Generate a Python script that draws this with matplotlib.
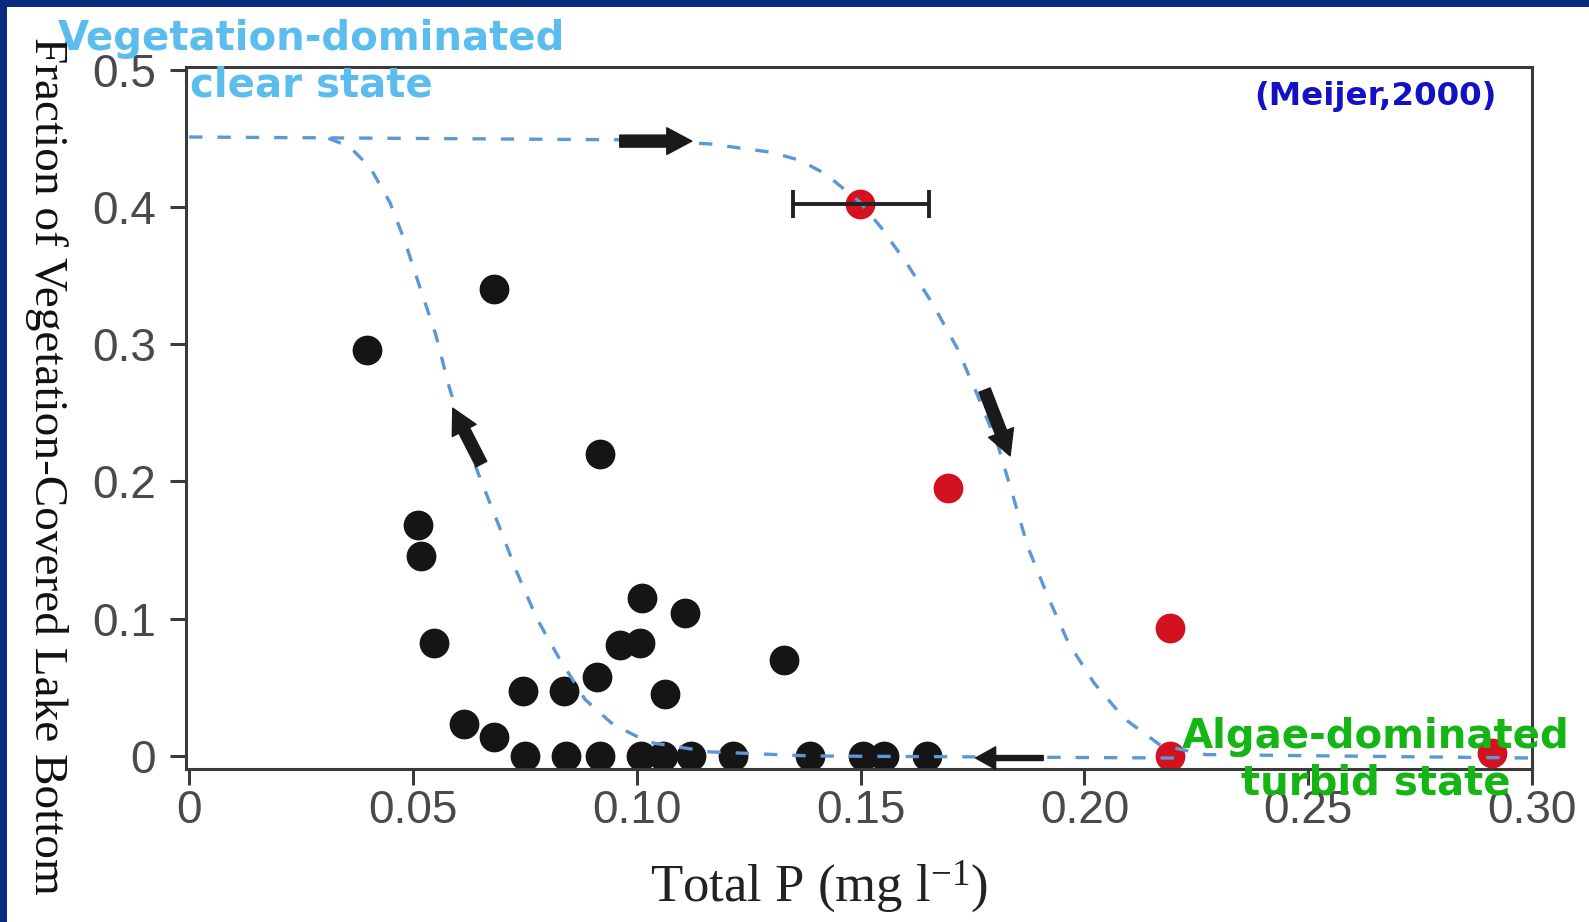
import matplotlib.pyplot as plt
from matplotlib.patches import Rectangle

plt.rcParams['font.family'] = ['Liberation Sans', 'DejaVu Sans']
plt.rcParams['mathtext.fontset'] = 'custom'
plt.rcParams['mathtext.rm'] = 'Liberation Serif'
plt.rcParams['mathtext.it'] = 'Liberation Serif:italic'

# lakes without regime shift (black) and with (red)
black_x = [0.0397, 0.0680, 0.0917, 0.0512, 0.0519, 0.0546, 0.1012, 0.1107, 0.0962, 0.1008,
           0.1329, 0.0745, 0.0838, 0.0911, 0.1064, 0.0614, 0.0682,
           0.0750, 0.0841, 0.0917, 0.1009, 0.1058, 0.1121, 0.1214, 0.1386, 0.1505, 0.1552, 0.1648]
black_y = [0.2955, 0.3405, 0.220, 0.168, 0.146, 0.082, 0.115, 0.104, 0.081, 0.082,
           0.070, 0.047, 0.047, 0.0576, 0.045, 0.023, 0.014,
           0, 0, 0, 0, 0, 0, 0, 0, 0, 0, 0]
red_x = [0.1498, 0.1696, 0.2191, 0.2191, 0.2910]
red_y = [0.402, 0.195, 0.093, 0.0, 0.002]
red_xerr_lo = [0.015]
red_xerr_hi = [0.0155]

# hysteresis branches (dashed)
upper_x = [0.000, 0.0483, 0.0958, 0.1162, 0.1298, 0.1365, 0.1422, 0.1497, 0.1546, 0.1603,
           0.1660, 0.1716, 0.1761, 0.1807, 0.1840, 0.1874, 0.1920, 0.1965, 0.2022, 0.2090,
           0.2169, 0.2271, 0.2995]
upper_y = [0.451, 0.450, 0.449, 0.446, 0.440, 0.434, 0.424, 0.404, 0.385, 0.359,
           0.330, 0.297, 0.263, 0.226, 0.190, 0.152, 0.115, 0.082, 0.053, 0.027,
           0.008, 0.001, -0.0015]
lower_x = [0.0311, 0.0358, 0.0404, 0.0449, 0.0483, 0.0517, 0.0551, 0.0580, 0.0614, 0.0653,
           0.0693, 0.0732, 0.0777, 0.0827, 0.0885, 0.0947, 0.1026, 0.1162, 0.1388, 0.2203]
lower_y = [0.450, 0.444, 0.429, 0.403, 0.374, 0.340, 0.307, 0.270, 0.233, 0.200,
           0.167, 0.134, 0.100, 0.071, 0.041, 0.023, 0.010, 0.003, 0.0, -0.0015]

# arrows: (tail, tip)
arrow_tails = [(0.0962, 0.448), (0.1777, 0.2666), (0.0653, 0.2127), (0.1908, -0.0015)]
arrow_tips = [(0.1123, 0.448), (0.1834, 0.2187), (0.0589, 0.2534), (0.1757, -0.0015)]

xticks = [0, 0.05, 0.10, 0.15, 0.20, 0.25, 0.30]
xtick_labels = ['0', '0.05', '0.10', '0.15', '0.20', '0.25', '0.30']
yticks = [0, 0.1, 0.2, 0.3, 0.4, 0.5]
ytick_labels = ['0', '0.1', '0.2', '0.3', '0.4', '0.5']

W, H = 1589, 922
fig = plt.figure(figsize=(W / 100, H / 100), dpi=100, facecolor='#0b2a7c')
fig.patches.append(Rectangle((7 / W, 0), 1, 1 - 7 / H, transform=fig.transFigure,
                             facecolor='white', edgecolor='none', zorder=-1))

ax = fig.add_axes([186 / W, 1 - 769 / H, (1532 - 186) / W, (769 - 67) / H])
ax.set_xlim(-0.0007, 0.2999)
ax.set_ylim(-0.0095, 0.502)

ax.scatter(black_x, black_y, s=460, color='#151515', linewidths=0, zorder=2)
ax.scatter(red_x, red_y, s=460, color='#d4121f', linewidths=0, zorder=2)

dash = dict(color='#5a98d6', lw=2.4, dashes=(4, 4.5), zorder=3)
ax.plot(upper_x, upper_y, **dash)
ax.plot(lower_x, lower_y, **dash)

ax.errorbar(red_x[:1], red_y[:1], xerr=[red_xerr_lo, red_xerr_hi], fmt='none',
            ecolor='#222222', elinewidth=2.8, capsize=10, capthick=2.8, zorder=3)

styles = ['simple,head_width=0.8,head_length=0.75,tail_width=0.36'] * 3 + \
         ['simple,head_width=0.67,head_length=0.6,tail_width=0.15']
for tail, tip, st in zip(arrow_tails, arrow_tips, styles):
    ax.annotate('', xy=tip, xytext=tail,
                arrowprops=dict(arrowstyle=st, color='#1a1a1a', shrinkA=0, shrinkB=0,
                                mutation_scale=24), zorder=4)

ax.set_xticks(xticks)
ax.set_xticklabels(xtick_labels)
ax.set_yticks(yticks)
ax.set_yticklabels(ytick_labels)
ax.tick_params(direction='out', length=11.5, width=2.2, color='#3a3a3a',
               labelcolor='#4a4a4a', labelsize=33)
ax.tick_params(axis='x', pad=3)
ax.tick_params(axis='y', pad=10)
for sp in ax.spines.values():
    sp.set_linewidth(2.2)
    sp.set_color('#3a3a3a')

ax.set_xlabel('Total P (mg l$^{\\mathrm{-1}}$)', family='Liberation Serif', fontsize=38,
              color='#222222', va='center')
ax.xaxis.set_label_coords(0.470, -0.168)
ax.set_ylabel('Fraction of Vegetation-Covered Lake Bottom', family='Liberation Serif',
              fontsize=34, color='#111111', rotation=270, va='center')
ax.yaxis.set_label_coords(-0.104, 0.432)

fig.text(311 / W, 1 - 62 / H, 'Vegetation-dominated\nclear state', family='DejaVu Sans',
         weight='bold', fontsize=29, color='#5bbcee', ha='center', va='center',
         linespacing=1.2)
fig.text(1376 / W, 1 - 760 / H, 'Algae-dominated\nturbid state', family='DejaVu Sans',
         weight='bold', fontsize=29, color='#16b516', ha='center', va='center',
         linespacing=1.2)
fig.text(1497 / W, 1 - 96 / H, '(Meijer,2000)', family='DejaVu Sans', weight='bold',
         fontsize=23.4, color='#1212c4', ha='right', va='center')

fig.savefig('out.png', dpi=100, facecolor=fig.get_facecolor())
